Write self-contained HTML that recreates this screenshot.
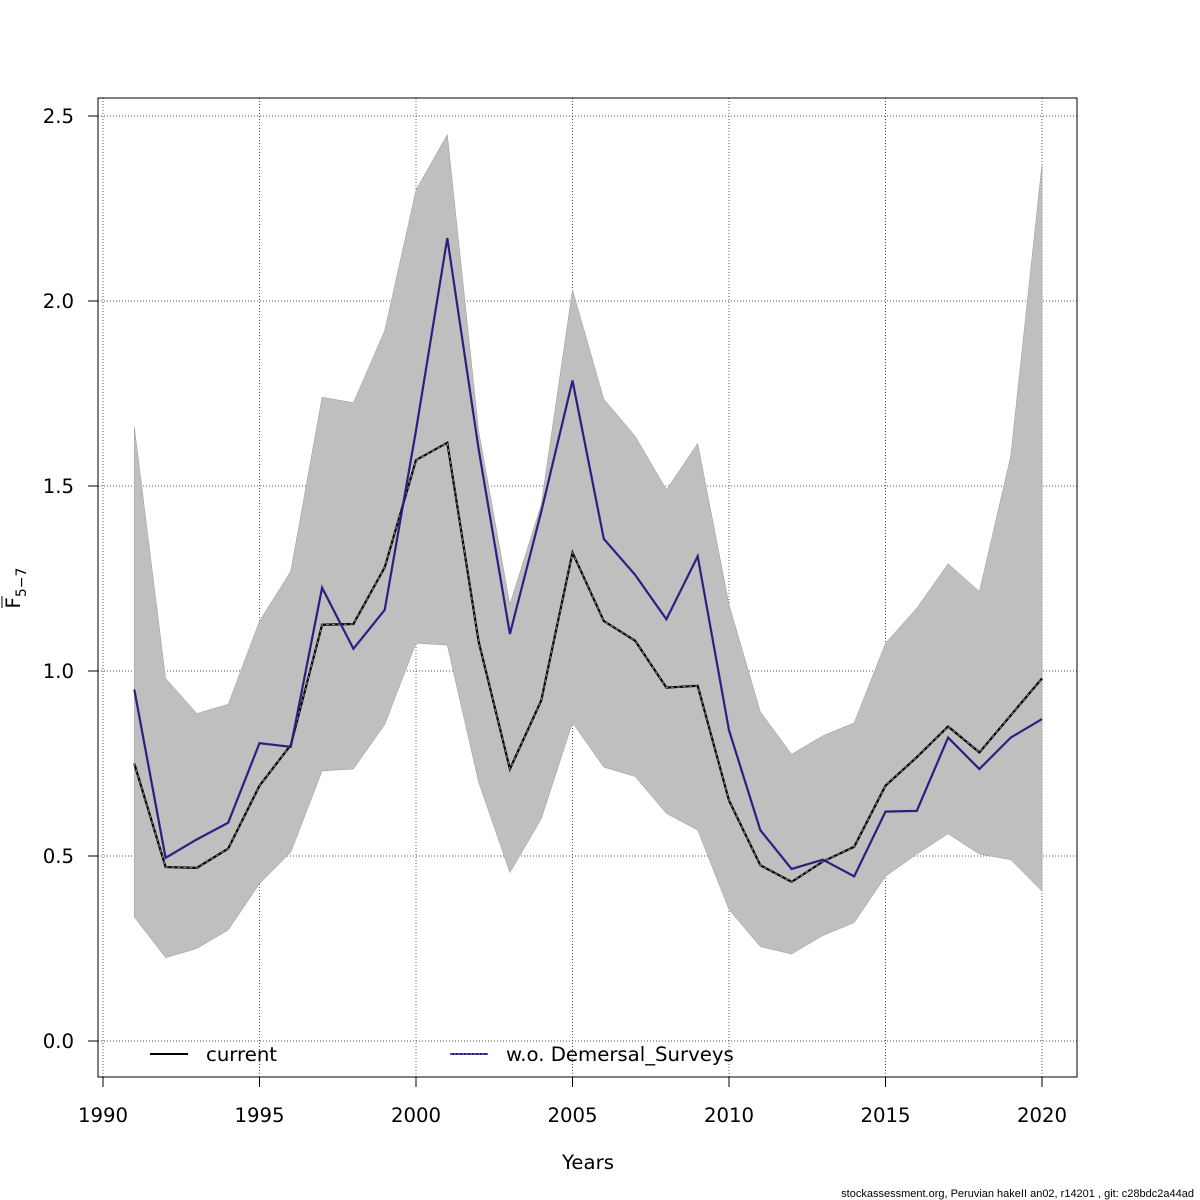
<!DOCTYPE html>
<html><head><meta charset="utf-8"><style>
html,body{margin:0;padding:0;background:#fff;}
svg{display:block;font-family:"DejaVu Sans","Liberation Sans",sans-serif;}
</style></head><body>
<svg id="chart" width="1200" height="1200" viewBox="0 0 1200 1200" xmlns="http://www.w3.org/2000/svg">
<rect width="1200" height="1200" fill="#fff"/>
<g id="grid"></g>
<g id="band"></g>
<g id="lines"></g>
<rect x="98" y="98" width="979" height="979" fill="none" stroke="#000" stroke-width="1"/>
<g id="axes"></g>
<g>
<line x1="150" y1="1054" x2="188" y2="1054" stroke="#000" stroke-width="2"/>
<text x="206" y="1061" font-size="19.7">current</text>
<line x1="450" y1="1054" x2="488" y2="1054" stroke="#2b1f80" stroke-width="2"/>
<line x1="450" y1="1054" x2="488" y2="1054" stroke="#8a80c0" stroke-width="1" stroke-dasharray="2,2"/>
<text x="506" y="1061" font-size="19.7">w.o. Demersal_Surveys</text>
</g>
<text x="588" y="1169" font-size="19.7" text-anchor="middle">Years</text>
<g transform="translate(20,588) rotate(-90)">
<text font-size="19.7" text-anchor="middle" x="0" y="0">F<tspan font-size="14" dy="6">5−7</tspan></text>
<line x1="-20" y1="-18" x2="-8" y2="-18" stroke="#000" stroke-width="1"/>
</g>
<text x="1194" y="1197" font-size="11" text-anchor="end" font-family="Liberation Sans, sans-serif">stockassessment.org, Peruvian  hakeII  an02, r14201 , git: c28bdc2a44ad</text>
</svg>
<script>
const years = [1991,1992,1993,1994,1995,1996,1997,1998,1999,2000,2001,2002,2003,2004,2005,2006,2007,2008,2009,2010,2011,2012,2013,2014,2015,2016,2017,2018,2019,2020];
const current = [0.75,0.47,0.468,0.52,0.69,0.80,1.125,1.127,1.28,1.57,1.617,1.08,0.735,0.92,1.32,1.135,1.082,0.955,0.96,0.65,0.475,0.43,0.485,0.525,0.69,0.767,0.85,0.78,0.88,0.98];
const woDemersal = [0.95,0.495,0.545,0.59,0.805,0.795,1.225,1.06,1.165,1.65,2.17,1.6,1.1,1.43,1.785,1.357,1.26,1.14,1.31,0.84,0.57,0.465,0.49,0.445,0.62,0.622,0.82,0.735,0.82,0.87];
const upper = [1.66,0.98,0.885,0.91,1.135,1.27,1.74,1.725,1.92,2.3,2.45,1.65,1.18,1.45,2.03,1.735,1.635,1.49,1.615,1.18,0.89,0.775,0.825,0.86,1.075,1.17,1.29,1.215,1.58,2.37];
const lower = [0.335,0.225,0.25,0.3,0.425,0.51,0.73,0.735,0.855,1.075,1.07,0.7,0.455,0.6,0.86,0.74,0.715,0.615,0.57,0.355,0.255,0.235,0.285,0.32,0.445,0.505,0.56,0.505,0.49,0.405];
const xTicks = [1990,1995,2000,2005,2010,2015,2020];
const yTicks = [0.0,0.5,1.0,1.5,2.0,2.5];
const yTickLabels = ["0.0","0.5","1.0","1.5","2.0","2.5"];

const NS="http://www.w3.org/2000/svg";
const xs = v => 103 + (v-1990)*(1042-103)/30;
const ys = v => 1041 - v*(1041-116)/2.5;
function mk(tag, attrs, parent){const e=document.createElementNS(NS,tag);for(const k in attrs)e.setAttribute(k,attrs[k]);parent.appendChild(e);return e;}
const grid=document.getElementById('grid'), axes=document.getElementById('axes'), band=document.getElementById('band'), lines=document.getElementById('lines');

xTicks.forEach(t=>{
  const g=mk('line',{x1:xs(t),x2:xs(t),y1:98,y2:1077,stroke:'#555','stroke-width':1,'stroke-dasharray':'1,2'},grid);
  
  
  const tk=mk('line',{x1:xs(t),x2:xs(t),y1:1077,y2:1087,stroke:'#000'},axes);
  
  
  const tx=mk('text',{x:xs(t),y:1122,'font-size':19.7,'text-anchor':'middle'},axes);
  tx.textContent=t;
  
  
});
mk('line',{x1:xs(1990),x2:xs(2020),y1:1077,y2:1077,stroke:'#000'},axes);
yTicks.forEach((t,i)=>{
  const g=mk('line',{x1:98,x2:1077,y1:ys(t),y2:ys(t),stroke:'#555','stroke-width':1,'stroke-dasharray':'1,2'},grid);
  
  
  const tk=mk('line',{x1:88,x2:98,y1:ys(t),y2:ys(t),stroke:'#000'},axes);
  
  
  const tx=mk('text',{x:74,y:ys(t)+7,'font-size':19.7,'text-anchor':'end'},axes);
  tx.textContent=yTickLabels[i];
  
  
});

let bp=years.map((y,i)=>xs(y)+','+ys(upper[i]));
for(let i=years.length-1;i>=0;i--)bp.push(xs(years[i])+','+ys(lower[i]));
const poly=mk('polygon',{points:bp.join(' '),fill:'#bfbfbf',stroke:'#999','stroke-width':0.5},band);



const pts=arr=>years.map((y,i)=>xs(y)+','+ys(arr[i])).join(' ');
const l1=mk('polyline',{points:pts(current),fill:'none',stroke:'#000','stroke-width':2.2},lines);


const l1d=mk('polyline',{points:pts(current),fill:'none',stroke:'#888','stroke-width':1,'stroke-dasharray':'3,3'},lines);


const l2=mk('polyline',{points:pts(woDemersal),fill:'none',stroke:'#2b1f80','stroke-width':2.2},lines);


</script>
</body></html>
